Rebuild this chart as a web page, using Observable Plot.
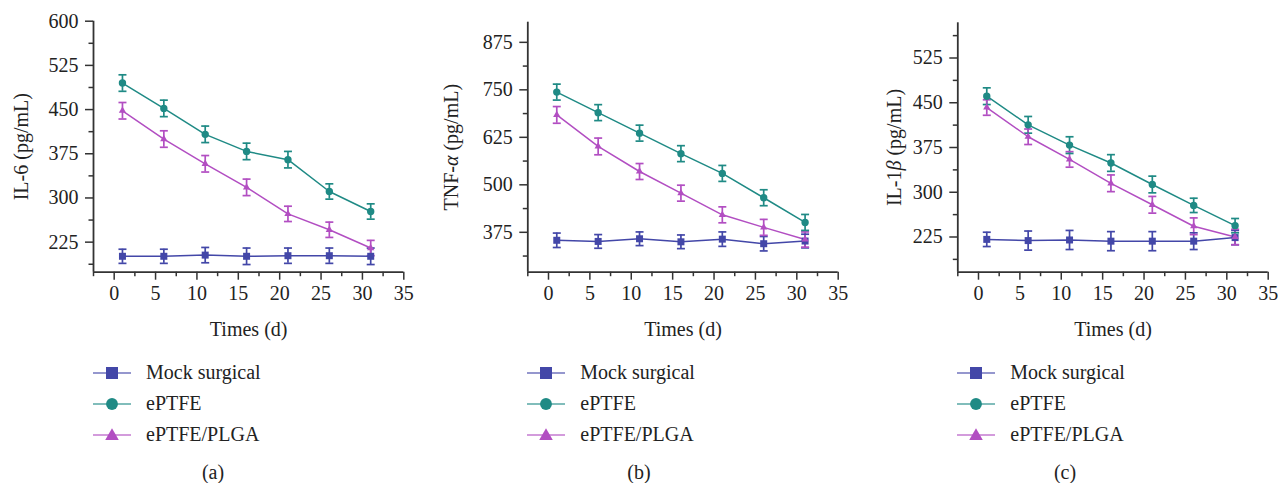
<!DOCTYPE html>
<html><head><meta charset="utf-8">
<script src="https://cdn.jsdelivr.net/npm/d3@7"></script>
<script src="https://cdn.jsdelivr.net/npm/@observablehq/plot@0.6"></script>
<style>
body{margin:0;background:#fff;}
#wrap{position:relative;width:1278px;height:483px;overflow:hidden;font-family:"Liberation Serif","DejaVu Serif",serif;color:#222;}
.panel{position:absolute;top:0;width:426px;height:483px;}
.panel > svg{position:absolute;left:0;top:0;}
.legend{position:absolute;top:357px;}
.row{height:31px;display:flex;align-items:center;font-size:20px;white-space:nowrap;}
.row svg{margin-right:15px;display:block;}
.cap{position:absolute;top:460px;left:0;width:426px;text-align:center;font-size:20px;line-height:24px;}
</style></head><body><div id="wrap"></div><script>
// ---- data ----
const days = [1, 6, 11, 16, 21, 26, 31];
const seriesNames = ["Mock surgical", "ePTFE", "ePTFE/PLGA"];
const seriesColors = ["#4347a8", "#1f8a85", "#b24ec2"];
const seriesSymbols = ["square", "circle", "triangle"];

// (a) IL-6
const il6Mock = [201, 201, 203, 201, 202, 202, 201];
const il6MockErr = [12, 12, 13, 14, 13, 13, 14];
const il6Eptfe = [495, 452, 408, 379, 365, 311, 277];
const il6EptfeErr = [14, 14, 14, 14, 14, 13, 13];
const il6Plga = [448, 400, 358, 318, 273, 246, 215];
const il6PlgaErr = [14, 14, 14, 14, 13, 13, 13];

// (b) TNF-α
const tnfMock = [354, 351, 358, 350, 357, 345, 352];
const tnfMockErr = [19, 18, 18, 18, 19, 19, 18];
const tnfEptfe = [744, 690, 636, 582, 530, 466, 401];
const tnfEptfeErr = [21, 21, 21, 21, 21, 21, 21];
const tnfPlga = [684, 601, 535, 478, 421, 388, 356];
const tnfPlgaErr = [22, 22, 21, 21, 21, 21, 20];

// (c) IL-1β
const il1bMock = [221, 219, 220, 218, 218, 218, 224];
const il1bMockErr = [12, 16, 16, 16, 16, 14, 12];
const il1bEptfe = [461, 413, 379, 349, 313, 278, 244];
const il1bEptfeErr = [14, 14, 14, 14, 14, 12, 12];
const il1bPlga = [442, 393, 355, 315, 279, 243, 225];
const il1bPlgaErr = [13, 13, 13, 14, 14, 14, 13];

// axes
const xDomain = [-2.5, 35];
const xTicks = [0, 5, 10, 15, 20, 25, 30, 35];
const xMinorTicks = [-2.5, 2.5, 7.5, 12.5, 17.5, 22.5, 27.5, 32.5];

const panels = [
  {id: "a", label: "IL-6 (pg/mL)", yDomain: [174, 600],
   yTicks: [225, 300, 375, 450, 525, 600], yMinor: [187.5, 262.5, 337.5, 412.5, 487.5, 562.5],
   values: [il6Mock, il6Eptfe, il6Plga], errs: [il6MockErr, il6EptfeErr, il6PlgaErr],
   ml: 93, mr: 22.7, mt: 20.7, lo: 80},
  {id: "b", label: "TNF-α (pg/mL)", yDomain: [270, 928],
   yTicks: [375, 500, 625, 750, 875], yMinor: [312.5, 437.5, 562.5, 687.5, 812.5],
   values: [tnfMock, tnfEptfe, tnfPlga], errs: [tnfMockErr, tnfEptfeErr, tnfPlgaErr],
   ml: 101.3, mr: 14.3, mt: 21.7, lo: 84},
  {id: "c", label: "IL-1β (pg/mL)", yDomain: [166, 584],
   yTicks: [225, 300, 375, 450, 525], yMinor: [187.5, 262.5, 337.5, 412.5, 487.5, 562.5],
   values: [il1bMock, il1bEptfe, il1bPlga], errs: [il1bMockErr, il1bEptfeErr, il1bPlgaErr],
   ml: 105.3, mr: 10.3, mt: 22.3, lo: 71}
];

const capSymbol = {draw(ctx, size) { const w = Math.sqrt(size / Math.PI); ctx.moveTo(-w, 0); ctx.lineTo(w, 0); }};
const markerR = [3.95, 3.7, 2.7];
const H = 345, plotBottom = 271.7;

const wrap = document.getElementById("wrap");

panels.forEach((p, pi) => {
  const rows = [];
  seriesNames.forEach((s, si) => days.forEach((d, i) => rows.push({series: s, day: d, value: p.values[si][i], err: p.errs[si][i]})));
  const axisColor = "#333";
  const marks = [
    Plot.axisY({ticks: p.yTicks, tickSize: 8, tickPadding: 7, tickFormat: d => String(d), label: p.label,
      labelAnchor: "center", labelOffset: p.lo, labelArrow: "none", stroke: axisColor, strokeWidth: 1.5}),
    Plot.axisY({ticks: p.yMinor, tickSize: 4.5, tickFormat: () => "", label: null, stroke: axisColor, strokeWidth: 1.5}),
    Plot.axisX({ticks: xTicks, tickSize: 8, tickPadding: 6, tickFormat: d => String(d), label: "Times (d)",
      labelAnchor: "center", labelOffset: 64, labelArrow: "none", stroke: axisColor, strokeWidth: 1.5}),
    Plot.axisX({ticks: xMinorTicks, tickSize: 4.5, tickFormat: () => "", label: null, stroke: axisColor, strokeWidth: 1.5}),
    Plot.ruleX([xDomain[0]], {stroke: axisColor, strokeWidth: 1.8}),
    Plot.ruleY([p.yDomain[0]], {stroke: axisColor, strokeWidth: 1.8}),
    Plot.ruleX(rows, {x: "day", y1: d => d.value - d.err, y2: d => d.value + d.err, stroke: "series", strokeWidth: 1.7}),
    Plot.dot(rows, {x: "day", y: d => d.value + d.err, symbol: capSymbol, r: 4, stroke: "series", strokeWidth: 1.7, fill: "none"}),
    Plot.dot(rows, {x: "day", y: d => d.value - d.err, symbol: capSymbol, r: 4, stroke: "series", strokeWidth: 1.7, fill: "none"}),
    Plot.line(rows, {x: "day", y: "value", z: "series", stroke: "series", strokeWidth: 1.5}),
    ...seriesNames.map((s, si) => Plot.dot(rows.filter(r => r.series === s), {x: "day", y: "value", symbol: "series", fill: "series", r: markerR[si], stroke: "none"}))
  ];
  const chart = Plot.plot({
    width: 426, height: H,
    marginLeft: p.ml, marginRight: p.mr, marginTop: p.mt, marginBottom: H - plotBottom,
    x: {domain: xDomain},
    y: {domain: p.yDomain},
    color: {domain: seriesNames, range: seriesColors},
    symbol: {domain: seriesNames, range: seriesSymbols},
    style: {fontFamily: "'Liberation Serif', 'DejaVu Serif', serif", fontSize: "20px", color: "#222", background: "transparent", overflow: "visible"},
    marks
  });
  // italic Greek letters in label
  d3.select(chart).selectAll("text").each(function() {
    const t = this.textContent;
    const m = t.match(/^(.*?)([αβ])(.*)$/);
    if (m && t.includes("pg/mL")) {
      const sel = d3.select(this);
      sel.text(null);
      sel.append("tspan").text(m[1]);
      sel.append("tspan").attr("font-style", "italic").text(m[2]);
      sel.append("tspan").text(m[3]);
    }
  });
  const panel = document.createElement("div");
  panel.className = "panel";
  panel.style.left = (pi * 426) + "px";
  panel.appendChild(chart);

  const legend = document.createElement("div");
  legend.className = "legend";
  legend.style.left = p.ml + "px";
  seriesNames.forEach((s, si) => {
    const row = document.createElement("div");
    row.className = "row";
    const sw = d3.create("svg").attr("width", 38).attr("height", 20);
    sw.append("line").attr("x1", 0).attr("x2", 38).attr("y1", 10).attr("y2", 10)
      .attr("stroke", seriesColors[si]).attr("stroke-width", 1.6).attr("stroke-opacity", 0.75);
    const sym = d3.symbol().type([d3.symbolSquare, d3.symbolCircle, d3.symbolTriangle][si]).size([144, 110, 80][si]);
    sw.append("path").attr("d", sym()).attr("transform", `translate(19,${si === 2 ? 11 : 10})`).attr("fill", seriesColors[si]);
    row.appendChild(sw.node());
    const tx = document.createElement("span");
    tx.textContent = s;
    row.appendChild(tx);
    legend.appendChild(row);
  });
  panel.appendChild(legend);

  const cap = document.createElement("div");
  cap.className = "cap";
  cap.textContent = "(" + p.id + ")";
  panel.appendChild(cap);
  wrap.appendChild(panel);
});
</script></body></html>
